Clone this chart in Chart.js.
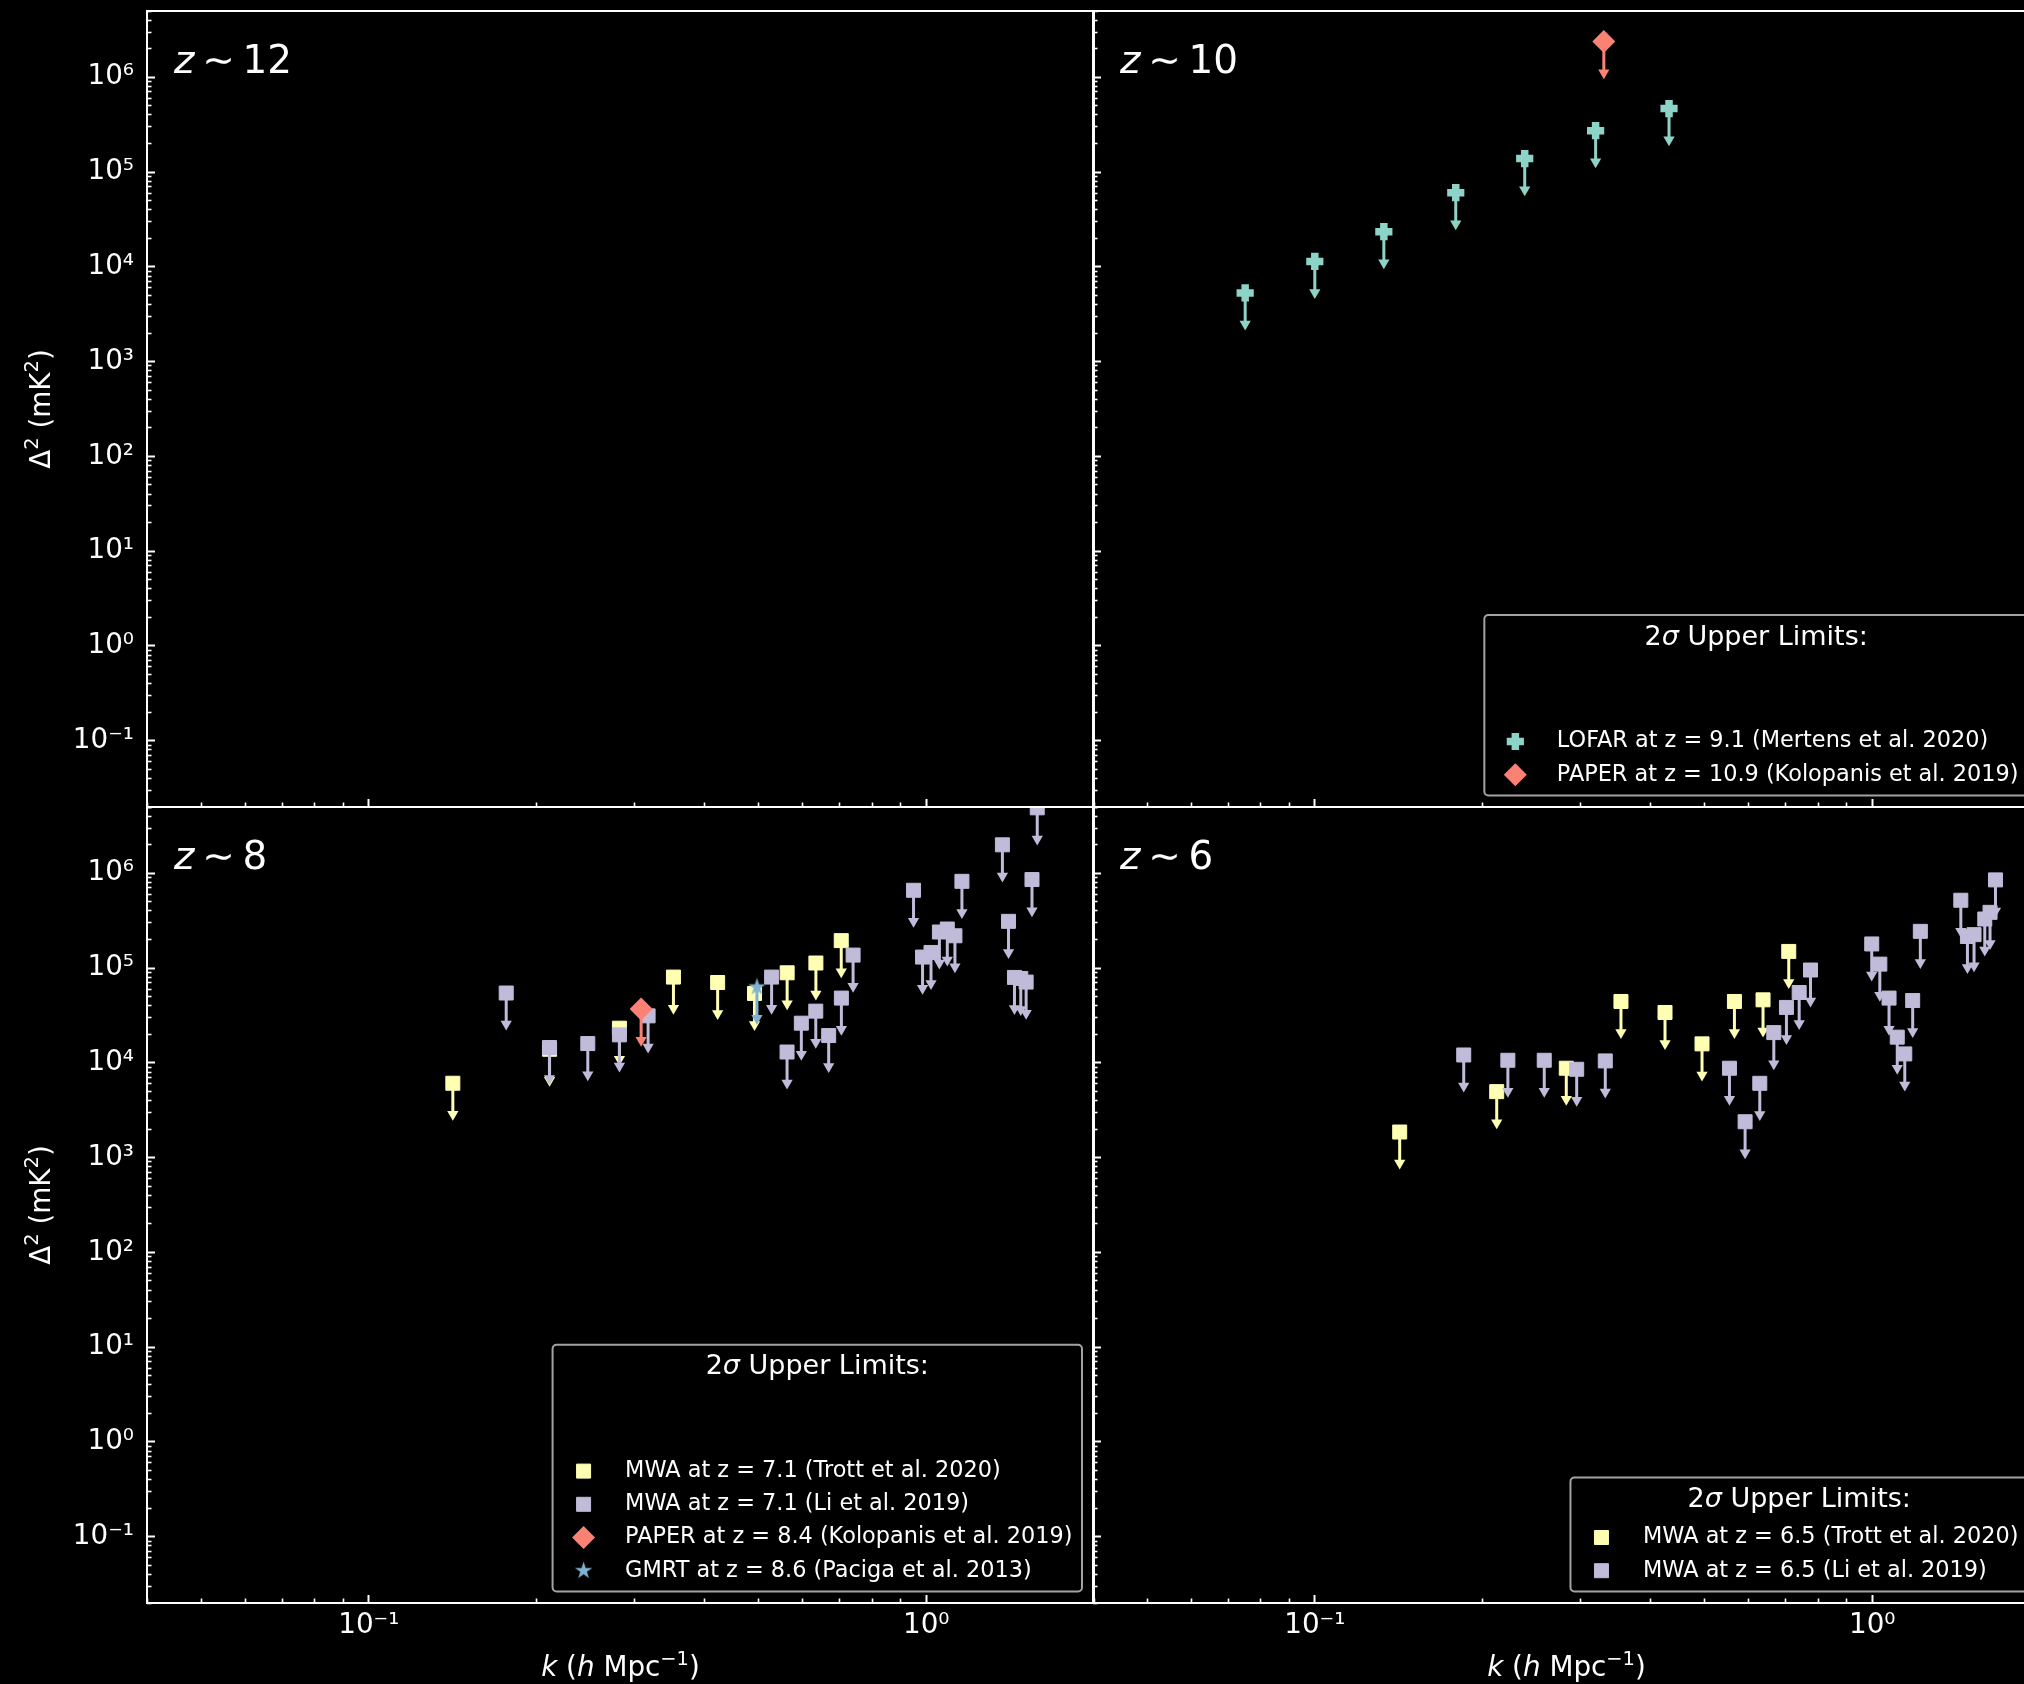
<!DOCTYPE html>
<html>
<head>
<meta charset="utf-8">
<title>21-cm power spectrum upper limits</title>
<script src="https://cdn.jsdelivr.net/npm/chart.js@4.4.1/dist/chart.umd.min.js"></script>
<style>
  html, body { margin: 0; padding: 0; background: #000; width: 2024px; height: 1684px; overflow: hidden; }
  canvas { position: absolute; left: 0; top: 0; }
</style>
</head>
<body>
<canvas id="panel12" width="2050" height="1684"></canvas>
<canvas id="panel10" width="2050" height="1684"></canvas>
<canvas id="panel8" width="2050" height="1684"></canvas>
<canvas id="panel6" width="2050" height="1684"></canvas>
<script>
// ---------------------------------------------------------------------------
// Upper limits on the 21-cm power spectrum Δ²(k) in mK², grouped by redshift.
// k in h/Mpc.
// ---------------------------------------------------------------------------

// z ~ 10
const lofarZ91K  = [0.075, 0.100, 0.133, 0.179, 0.238, 0.319, 0.432];
const lofarZ91D2 = [5300, 11400, 23500, 60600, 138600, 273000, 467000];
const paperZ109K  = [0.330];
const paperZ109D2 = [2380000];

// z ~ 8
const mwaTrottZ71K  = [0.1415, 0.211, 0.2816, 0.352, 0.4225, 0.492, 0.563, 0.634, 0.704];
const mwaTrottZ71D2 = [6090, 13900, 23200, 80300, 70400, 53900, 89100, 113000, 194600];
const mwaLiZ71K  = [0.1764, 0.2109, 0.2471, 0.2816, 0.317, 0.528, 0.5628, 0.597, 0.6337, 0.6684,
                    0.7044, 0.7393, 0.949, 0.985, 1.020, 1.056, 1.091, 1.126, 1.159, 1.370,
                    1.405, 1.440, 1.478, 1.511, 1.548, 1.582];
const mwaLiZ71D2 = [54500, 14500, 15970, 19720, 31300, 80300, 13000, 26200, 35100, 19400,
                    48200, 137000, 661000, 130600, 146000, 240000, 258000, 219000, 822000, 1996000,
                    311000, 79600, 77600, 71100, 858000, 4900000];
const paperZ84K  = [0.308];
const paperZ84D2 = [36900];
const gmrtZ86K  = [0.497];
const gmrtZ86D2 = [63000];

// z ~ 6
const mwaTrottZ65K  = [0.142, 0.212, 0.2826, 0.3542, 0.4249, 0.4951, 0.566, 0.637, 0.7084];
const mwaTrottZ65D2 = [1862, 4966, 8770, 44400, 33970, 15850, 44400, 46200, 149700];
const mwaLiZ65K  = [0.185, 0.222, 0.258, 0.295, 0.332, 0.5545, 0.5915, 0.6285, 0.666, 0.7017,
                    0.7396, 0.775, 0.998, 1.032, 1.072, 1.109, 1.144, 1.182, 1.220, 1.442,
                    1.482, 1.523, 1.592, 1.627, 1.664];
const mwaLiZ65D2 = [12100, 10640, 10640, 8550, 10470, 8770, 2390, 6080, 20840, 38400,
                    55200, 95300, 179500, 110000, 48200, 18660, 12410, 45400, 243800, 519000,
                    215000, 225000, 329000, 387000, 851000];

// Panel redshift labels
const panelRedshifts = ['12', '10', '8', '6'];

// Axis ticks and their labels
const xMajorTicks = [0.1, 1];
const xTickLabels = ['10⁻¹', '10⁰'];
const yMajorTicks = [1e-1, 1, 1e1, 1e2, 1e3, 1e4, 1e5, 1e6];
const yTickLabels = ['10⁻¹', '10⁰', '10¹', '10²', '10³', '10⁴', '10⁵', '10⁶'];

// ---------------------------------------------------------------------------
// Styling
// ---------------------------------------------------------------------------
const FONT = 'DejaVu Sans';
const TICK_SIZE = 27.8;
const LEGEND_SIZE = 22.4;
const LEGEND_TITLE_SIZE = 27;
const LABEL_SIZE = 38.9;
const X_MIN = 0.04, X_MAX = 2, Y_MIN = 0.02, Y_MAX = 5e6;
const HEAD_AT = 0.47;          // arrow head centre, as a fraction of the limit
const CANVAS_W = 2050, CANVAS_H = 1684;

const COLORS = {
  teal: '#8dd3c7', yellow: '#feffb3', lilac: '#bfbbd9', salmon: '#fa8174', blue: '#81b1d2'
};

function starCanvas(color, R) {
  const s = Math.ceil(2 * R) + 2;
  const c = document.createElement('canvas');
  c.width = s; c.height = s;
  const g = c.getContext('2d');
  g.fillStyle = color;
  g.beginPath();
  for (let i = 0; i < 10; i++) {
    const r = i % 2 ? R * 0.382 : R;
    const a = -Math.PI / 2 + i * Math.PI / 5;
    g.lineTo(s / 2 + r * Math.cos(a), s / 2 + r * Math.sin(a));
  }
  g.closePath();
  g.fill();
  return c;
}

const MARKERS = {
  square:  color => ({ pointStyle: 'rect', pointRadius: 9.9, pointBorderWidth: 1, pointRotation: 0 }),
  plus:    color => ({ pointStyle: 'cross', pointRadius: 8.6, pointBorderWidth: 7.5, pointRotation: 0 }),
  diamond: color => ({ pointStyle: 'rectRot', pointRadius: 11.5, pointBorderWidth: 0, pointRotation: 0 }),
  star:    color => ({ pointStyle: starCanvas(color, 9.2), pointRadius: 9.2, pointBorderWidth: 0, pointRotation: 0 })
};

// ---------------------------------------------------------------------------
// Series per panel
// ---------------------------------------------------------------------------
const panels = [
  { canvas: 'panel12', z: panelRedshifts[0], area: { left: 147, top: 11, right: 1094, bottom: 807 },
    yLabels: true, xLabels: false, legend: null, series: [] },
  { canvas: 'panel10', z: panelRedshifts[1], area: { left: 1093, top: 11, right: 2040, bottom: 807 },
    yLabels: false, xLabels: false, legend: { gapRows: 2 },
    series: [
      { label: 'LOFAR at z = 9.1 (Mertens et al. 2020)', k: lofarZ91K, d2: lofarZ91D2, color: COLORS.teal, marker: 'plus' },
      { label: 'PAPER at z = 10.9 (Kolopanis et al. 2019)', k: paperZ109K, d2: paperZ109D2, color: COLORS.salmon, marker: 'diamond' }
    ] },
  { canvas: 'panel8', z: panelRedshifts[2], area: { left: 147, top: 807, right: 1094, bottom: 1603 },
    yLabels: true, xLabels: true, legend: { gapRows: 2 },
    series: [
      { label: 'MWA at z = 7.1 (Trott et al. 2020)', k: mwaTrottZ71K, d2: mwaTrottZ71D2, color: COLORS.yellow, marker: 'square' },
      { label: 'MWA at z = 7.1 (Li et al. 2019)', k: mwaLiZ71K, d2: mwaLiZ71D2, color: COLORS.lilac, marker: 'square' },
      { label: 'PAPER at z = 8.4 (Kolopanis et al. 2019)', k: paperZ84K, d2: paperZ84D2, color: COLORS.salmon, marker: 'diamond' },
      { label: 'GMRT at z = 8.6 (Paciga et al. 2013)', k: gmrtZ86K, d2: gmrtZ86D2, color: COLORS.blue, marker: 'star' }
    ] },
  { canvas: 'panel6', z: panelRedshifts[3], area: { left: 1093, top: 807, right: 2040, bottom: 1603 },
    yLabels: false, xLabels: true, legend: { gapRows: 0 },
    series: [
      { label: 'MWA at z = 6.5 (Trott et al. 2020)', k: mwaTrottZ65K, d2: mwaTrottZ65D2, color: COLORS.yellow, marker: 'square' },
      { label: 'MWA at z = 6.5 (Li et al. 2019)', k: mwaLiZ65K, d2: mwaLiZ65D2, color: COLORS.lilac, marker: 'square' }
    ] }
];

// Each limit is a marker with a downward arrow: stem, head, then marker on top.
function limitDatasets(series) {
  const out = [];
  const n = series.length;
  series.forEach((s, i) => {
    const base = (n - i) * 3;
    const stem = [];
    s.k.forEach((k, j) => {
      stem.push({ x: k, y: s.d2[j] }, { x: k, y: s.d2[j] * HEAD_AT }, { x: k, y: null });
    });
    out.push({
      data: stem, showLine: true, spanGaps: false, borderColor: s.color, borderWidth: 3,
      pointRadius: 0, order: base + 2, clip: 0
    });
    out.push({
      data: s.k.map((k, j) => ({ x: k, y: s.d2[j] * HEAD_AT })),
      pointStyle: 'triangle', pointRotation: 180, pointRadius: 6.5,
      pointBackgroundColor: s.color, pointBorderColor: s.color, pointBorderWidth: 0,
      order: base + 1, clip: 0
    });
    out.push(Object.assign({
      label: s.label, legendEntry: true,
      data: s.k.map((k, j) => ({ x: k, y: s.d2[j] })),
      pointBackgroundColor: s.color, pointBorderColor: s.color,
      order: base, clip: 0
    }, MARKERS[s.marker](s.color)));
  });
  return out;
}

function minorTicks(lo, hi) {
  const out = [];
  for (let e = -3; e <= 7; e++) {
    for (let m = 2; m <= 9; m++) {
      const v = Number((m * Math.pow(10, e)).toPrecision(3));
      if (v >= lo * 0.999 && v <= hi * 1.001) out.push(v);
    }
  }
  return out;
}

function labelFor(value, majors, labels) {
  const i = majors.findIndex(m => Math.abs(Math.log10(m) - Math.log10(value)) < 1e-6);
  return i >= 0 ? labels[i] : '';
}

// A log axis whose tick marks point into the plot area.
function tickAxis(axis, position, values, opt) {
  const horizontal = axis === 'x';
  const min = horizontal ? X_MIN : Y_MIN;
  const max = horizontal ? X_MAX : Y_MAX;
  return {
    type: 'logarithmic', axis, position, min, max, weight: opt.weight,
    afterBuildTicks: s => { s.ticks = values.map(v => ({ value: v })); },
    afterFit: s => {
      if (horizontal) s.height = opt.size; else s.width = opt.size;
      s.paddingLeft = s.paddingRight = s.paddingTop = s.paddingBottom = 0;
    },
    grid: { display: true, drawOnChartArea: false, drawTicks: true, tickLength: -opt.len,
            tickWidth: opt.width, tickColor: '#ffffff', z: 1 },
    border: { display: !!opt.border, color: '#ffffff', width: 2, z: 1 },
    ticks: {
      display: !!opt.labels, autoSkip: false, maxRotation: 0, minRotation: 0,
      padding: opt.pad || 0, color: '#ffffff', font: { family: FONT, size: TICK_SIZE },
      callback: v => horizontal ? labelFor(v, xMajorTicks, xTickLabels) : labelFor(v, yMajorTicks, yTickLabels)
    },
    title: { display: false }
  };
}

// Plain spine along an edge of the plot area.
function frameAxis(axis, position) {
  return {
    type: 'logarithmic', axis, position,
    min: axis === 'x' ? X_MIN : Y_MIN, max: axis === 'x' ? X_MAX : Y_MAX,
    afterFit: s => {
      if (axis === 'x') s.height = 0; else s.width = 0;
      s.paddingLeft = s.paddingRight = s.paddingTop = s.paddingBottom = 0;
    },
    grid: { display: false },
    border: { display: true, color: '#ffffff', width: 2, z: 1 },
    ticks: { display: false }
  };
}

// Text helpers: runs of {t, it (italic), sup (superscript)}
function runFont(r, size) {
  return (r.it ? 'italic ' : '') + (r.sup ? size * 0.7 : size) + 'px "' + FONT + '"';
}
function drawRuns(ctx, runs, x, y, align, size, baseline) {
  const widths = runs.map(r => { ctx.font = runFont(r, size); return ctx.measureText(r.t).width; });
  const total = widths.reduce((a, b) => a + b, 0);
  let cx = align === 'center' ? x - total / 2 : x;
  ctx.textAlign = 'left';
  ctx.textBaseline = baseline || 'alphabetic';
  ctx.fillStyle = '#ffffff';
  runs.forEach((r, i) => {
    ctx.font = runFont(r, size);
    ctx.fillText(r.t, cx, r.sup ? y - size * 0.4 : y);
    cx += widths[i];
  });
  return total;
}

function roundRectPath(ctx, x, y, w, h, r) {
  ctx.beginPath();
  ctx.moveTo(x + r, y);
  ctx.lineTo(x + w - r, y);
  ctx.arcTo(x + w, y, x + w, y + r, r);
  ctx.lineTo(x + w, y + h - r);
  ctx.arcTo(x + w, y + h, x + w - r, y + h, r);
  ctx.lineTo(x + r, y + h);
  ctx.arcTo(x, y + h, x, y + h - r, r);
  ctx.lineTo(x, y + r);
  ctx.arcTo(x, y, x + r, y, r);
  ctx.closePath();
}

const LEGEND_TITLE = [{ t: '2' }, { t: 'σ', it: true }, { t: ' Upper Limits:' }];
const Y_TITLE = [{ t: 'Δ' }, { t: '2', sup: true }, { t: ' (mK' }, { t: '2', sup: true }, { t: ')' }];
const X_TITLE = [{ t: 'k', it: true }, { t: ' (' }, { t: 'h', it: true }, { t: ' Mpc' }, { t: '−1', sup: true }, { t: ')' }];
const ROW = 33.2;

function drawLegend(chart, cfg) {
  const ctx = chart.ctx;
  const a = chart.chartArea;
  const items = chart.data.datasets.filter(d => d.legendEntry);
  ctx.font = LEGEND_SIZE + 'px "' + FONT + '"';
  const textW = Math.max.apply(null, items.map(d => ctx.measureText(d.label).width));
  const w = 72.5 + textW + 9.5;
  const h = 29.7 + 30.3 + cfg.gapRows * ROW + (items.length - 1) * ROW + 20.8;
  const right = a.right - 12, bottom = a.bottom - 11.5;
  const left = right - w, top = bottom - h;

  roundRectPath(ctx, left, top, w, h, 4);
  ctx.fillStyle = 'rgba(0,0,0,0.8)';
  ctx.fill();
  ctx.lineWidth = 2;
  ctx.strokeStyle = '#a3a3a3';
  ctx.stroke();

  drawRuns(ctx, LEGEND_TITLE, left + w / 2, top + 29.7, 'center', LEGEND_TITLE_SIZE);

  items.forEach((d, i) => {
    const cy = top + 60 + cfg.gapRows * ROW + i * ROW;
    ctx.save();
    ctx.fillStyle = d.pointBackgroundColor;
    ctx.strokeStyle = d.pointBorderColor;
    ctx.lineWidth = d.pointBorderWidth;
    Chart.helpers.drawPoint(ctx, {
      pointStyle: d.pointStyle, radius: d.pointRadius, rotation: d.pointRotation || 0,
      borderWidth: d.pointBorderWidth
    }, left + 31, cy);
    ctx.restore();
    ctx.fillStyle = '#ffffff';
    ctx.font = LEGEND_SIZE + 'px "' + FONT + '"';
    ctx.textAlign = 'left';
    ctx.textBaseline = 'middle';
    ctx.fillText(d.label, left + 72.5, cy);
  });
}

const panelText = {
  id: 'panelText',
  afterDraw(chart, args, opts) {
    const ctx = chart.ctx;
    const a = chart.chartArea;
    ctx.save();
    drawRuns(ctx, [{ t: 'z', it: true }, { t: '\u2009∼\u2009' }, { t: opts.z }], a.left + 27, a.top + 62, 'left', LABEL_SIZE);
    if (opts.xTitle) {
      drawRuns(ctx, X_TITLE, (a.left + a.right) / 2, a.bottom + 73, 'center', TICK_SIZE);
    }
    if (opts.yTitle) {
      ctx.save();
      ctx.translate(49.5, (a.top + a.bottom) / 2);
      ctx.rotate(-Math.PI / 2);
      drawRuns(ctx, Y_TITLE, 0, 0, 'center', TICK_SIZE);
      ctx.restore();
    }
    if (opts.legend) drawLegend(chart, opts.legend);
    ctx.restore();
  }
};

Chart.defaults.font.family = FONT;
Chart.defaults.color = '#ffffff';

panels.forEach(p => {
  const yW = p.yLabels ? 147 : 0;
  const xH = p.xLabels ? 50 : 0;
  const padding = {
    left: p.area.left - yW,
    top: p.area.top,
    right: CANVAS_W - p.area.right,
    bottom: CANVAS_H - p.area.bottom - xH
  };
  const xMinor = minorTicks(X_MIN, X_MAX);
  const yMinor = minorTicks(Y_MIN, Y_MAX);
  new Chart(document.getElementById(p.canvas), {
    type: 'scatter',
    data: { datasets: limitDatasets(p.series) },
    options: {
      responsive: false, animation: false, events: [], devicePixelRatio: 1,
      layout: { padding, autoPadding: false },
      plugins: {
        legend: { display: false }, tooltip: { enabled: false },
        panelText: { z: p.z, xTitle: p.xLabels, yTitle: p.yLabels, legend: p.legend }
      },
      scales: {
        x: tickAxis('x', 'bottom', xMajorTicks, { weight: 1, size: xH, len: 8, width: 2, border: true, labels: p.xLabels, pad: 13.7 }),
        xMinor: tickAxis('x', 'bottom', xMinor, { weight: 0, size: 0, len: 4.5, width: 1.6 }),
        xTop: frameAxis('x', 'top'),
        y: tickAxis('y', 'left', yMajorTicks, { weight: 1, size: yW, len: 8, width: 2, border: true, labels: p.yLabels, pad: 21 }),
        yMinor: tickAxis('y', 'left', yMinor, { weight: 0, size: 0, len: 4.5, width: 1.6 }),
        yRight: frameAxis('y', 'right')
      }
    },
    plugins: [panelText]
  });
});
</script>
</body>
</html>
